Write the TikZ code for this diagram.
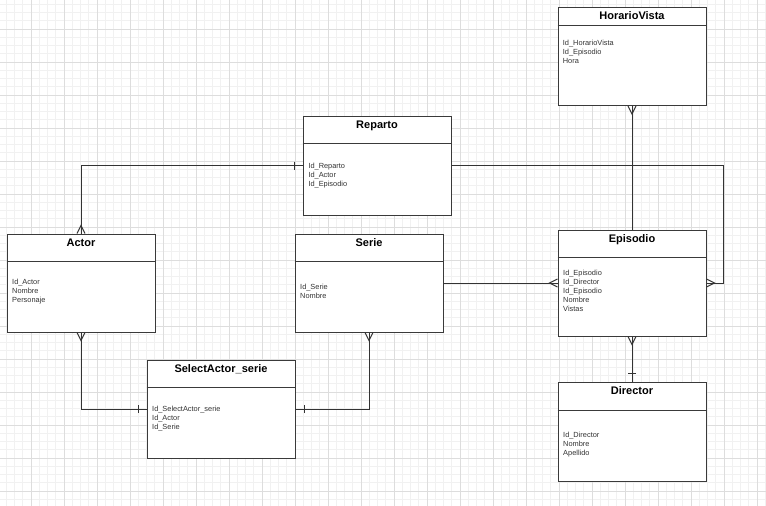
\documentclass[tikz,border=0pt]{standalone}
\usepackage{fontspec}
\setmainfont{Liberation Sans}
\usetikzlibrary{arrows.meta}
\definecolor{boxc}{HTML}{3A3A3A}
\definecolor{linec}{HTML}{333333}
\definecolor{attrc}{HTML}{333333}
\definecolor{minorg}{HTML}{F1F1F1}
\definecolor{majorg}{HTML}{DDDDDD}
\pgfdeclarearrow{
  name = crowfoot,
  setup code = {
    \pgfarrowssettipend{0pt}
    \pgfarrowssetlineend{0pt}
    \pgfarrowssetbackend{-8pt}
    \pgfarrowssetvisualbackend{-8pt}
    \pgfarrowshullpoint{0pt}{4pt}
    \pgfarrowshullpoint{0pt}{-4pt}
    \pgfarrowshullpoint{-8pt}{0pt}
  },
  drawing code = {
    \pgfpathmoveto{\pgfqpoint{0pt}{4pt}}
    \pgfpathlineto{\pgfqpoint{-8pt}{0pt}}
    \pgfpathlineto{\pgfqpoint{0pt}{-4pt}}
    \pgfusepathqstroke
  }
}
\pgfdeclarearrow{
  name = onebar,
  setup code = {
    \pgfarrowssettipend{0pt}
    \pgfarrowssetlineend{0pt}
    \pgfarrowssetbackend{-9pt}
    \pgfarrowssetvisualbackend{-9pt}
    \pgfarrowshullpoint{0pt}{4pt}
    \pgfarrowshullpoint{0pt}{-4pt}
    \pgfarrowshullpoint{-9pt}{4pt}
    \pgfarrowshullpoint{-9pt}{-4pt}
  },
  drawing code = {
    \pgfpathmoveto{\pgfqpoint{-8.5pt}{4pt}}
    \pgfpathlineto{\pgfqpoint{-8.5pt}{-4pt}}
    \pgfusepathqstroke
  }
}
\tikzset{
  entity/.style={draw=boxc, line width=1pt, fill=white, inner sep=0pt, anchor=north west, minimum width=148pt},
  hdr/.style={draw=boxc, line width=1pt},
  ttl/.style={font=\bfseries\fontsize{11pt}{13pt}\selectfont, inner sep=0pt, anchor=base},
  attr/.style={font=\fontsize{7.4pt}{9pt}\selectfont, text=attrc, align=left, inner sep=0pt, anchor=north west},
  conn/.style={draw=linec, line width=1pt},
}
\begin{document}
\begin{tikzpicture}
\useasboundingbox (0pt,0pt) rectangle (766pt,-506pt);
\fill[white] (0pt,0pt) rectangle (766pt,-506pt);
\begin{scope}
\clip (0pt,0pt) rectangle (766pt,-506pt);
\draw[minorg, line width=0.8pt, step=8.25pt, shift={(-2pt,4pt)}] (-10pt,-520pt) grid (780pt,10pt);
\draw[majorg, line width=0.8pt, step=33pt, shift={(-2pt,4pt)}] (-10pt,-520pt) grid (780pt,10pt);
\end{scope}

% HorarioVista
\node[entity, minimum height=98.5pt] (hv) at (557.5pt,-6.5pt) {};
\draw[hdr] ([yshift=-19pt]hv.north west) -- ([yshift=-19pt]hv.north east);
\node[ttl] (hvt) at ([yshift=-13pt]hv.north) {HorarioVista};
\node[attr] (hva) at (562.7pt,-39.5pt) {Id\_HorarioVista\\Id\_Episodio\\Hora};

% Reparto
\node[entity, minimum height=99pt] (rp) at (302.5pt,-115.5pt) {};
\draw[hdr] ([yshift=-28pt]rp.north west) -- ([yshift=-28pt]rp.north east);
\node[ttl] (rpt) at ([yshift=-13pt]rp.north) {Reparto};
\node[attr] (rpa) at (308.3pt,-162.5pt) {Id\_Reparto\\Id\_Actor\\Id\_Episodio};

% Actor
\node[entity, minimum height=98pt] (ac) at (6.5pt,-233.5pt) {};
\draw[hdr] ([yshift=-28pt]ac.north west) -- ([yshift=-28pt]ac.north east);
\node[ttl] (act) at ([yshift=-13pt]ac.north) {Actor};
\node[attr] (aca) at (12pt,-279.1pt) {Id\_Actor\\Nombre\\Personaje};

% Serie
\node[entity, minimum height=98pt] (se) at (294.5pt,-233.5pt) {};
\draw[hdr] ([yshift=-28pt]se.north west) -- ([yshift=-28pt]se.north east);
\node[ttl] (set) at ([yshift=-13pt]se.north) {Serie};
\node[attr] (sea) at (300pt,-284.1pt) {Id\_Serie\\Nombre};

% Episodio
\node[entity, minimum height=106pt] (ep) at (557.5pt,-229.5pt) {};
\draw[hdr] ([yshift=-28pt]ep.north west) -- ([yshift=-28pt]ep.north east);
\node[ttl] (ept) at ([yshift=-13pt]ep.north) {Episodio};
\node[attr] (epa) at (563pt,-270.1pt) {Id\_Episodio\\Id\_Director\\Id\_Episodio\\Nombre\\Vistas};

% SelectActor_serie
\node[entity, minimum height=98pt] (sa) at (146.5pt,-359.5pt) {};
\draw[hdr] ([yshift=-28pt]sa.north west) -- ([yshift=-28pt]sa.north east);
\node[ttl] (sat) at ([yshift=-13pt]sa.north) {SelectActor\_serie};
\node[attr] (saa) at (152pt,-405.5pt) {Id\_SelectActor\_serie\\Id\_Actor\\Id\_Serie};

% Director
\node[entity, minimum height=99pt] (di) at (557.5pt,-381.5pt) {};
\draw[hdr] ([yshift=-29pt]di.north west) -- ([yshift=-29pt]di.north east);
\node[ttl] (dit) at ([yshift=-13pt]di.north) {Director};
\node[attr] (dia) at (563pt,-432.1pt) {Id\_Director\\Nombre\\Apellido};

% Connectors
\draw[conn, {crowfoot}-] (hv.south) -- (ep.north);
\draw[conn, {onebar}-{crowfoot}] (rp.west) -| (ac.north);
\draw[conn, -{crowfoot}] (rp.east) -| ([xshift=17pt]ep.east) -- (ep.east);
\draw[conn, -{crowfoot}] (se.east) -- (ep.west);
\draw[conn, {crowfoot}-{onebar}] (ep.south) -- (di.north);
\draw[conn, {crowfoot}-{onebar}] (ac.south) |- (sa.west);
\draw[conn, {crowfoot}-{onebar}] (se.south) |- (sa.east);
\end{tikzpicture}
\end{document}
